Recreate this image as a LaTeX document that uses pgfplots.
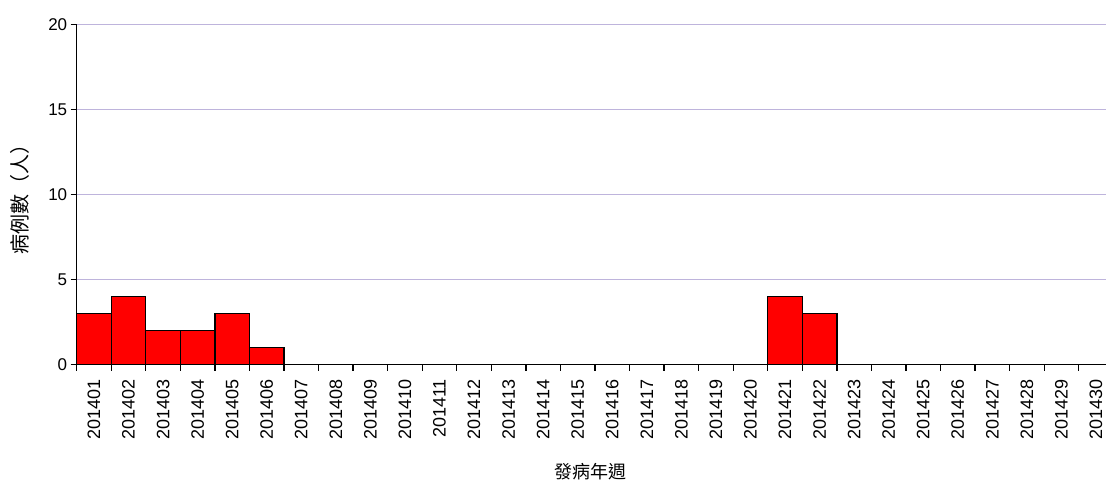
\documentclass[border=0pt]{standalone}
\usepackage{pgfplots}
\pgfplotsset{compat=1.18}
\usepackage{fontspec}
\setmainfont{Liberation Sans}
\newfontfamily\cjk{Noto Sans CJK TC}
\definecolor{gridc}{RGB}{190,180,220}
\begin{document}
\begin{tikzpicture}[x=1pt,y=1pt]
\path[use as bounding box] (0,0) rectangle (1106,480);
\begin{axis}[
  at={(76.7pt,115.3pt)}, anchor=south west,
  scale only axis, width=1029.3pt, height=340pt,
  xmin=-0.5, xmax=29.29, ymin=0, ymax=20,
  axis lines*=left,
  axis line style={-, black, line width=1.5pt},
  ytick={0,5,10,15,20},
  xtick={-0.5,0.5,...,28.5},
  xticklabels={},
  extra x ticks={0,...,29},
  extra x tick labels={201401,201402,201403,201404,201405,201406,201407,201408,201409,201410,201411,201412,201413,201414,201415,201416,201417,201418,201419,201420,201421,201422,201423,201424,201425,201426,201427,201428,201429,201430},
  extra x tick style={major tick length=0pt, xticklabel shift=11pt},
  tick align=outside,
  major tick length=6pt,
  tick style={black, line width=1.3pt},
  ymajorgrids,
  grid style={gridc, line width=1.3pt},
  /pgf/number format/assume math mode=true,
  xticklabel style={rotate=90, anchor=east, font=\fontsize{18}{18}\selectfont},
  yticklabel style={font=\fontsize{17}{17}\selectfont},
  xlabel={\cjk 發病年週},
  ylabel={\cjk 病例數（人）},
  xlabel style={at={(axis description cs:0.4987,-0.3156)}, anchor=center, font=\fontsize{18}{18}\selectfont},
  ylabel style={at={(axis description cs:-0.0551,0.5)}, anchor=center, font=\fontsize{20}{20}\selectfont},
  clip=false,
]
\addplot[ybar, bar width=1, fill=red, draw=black, line width=1.3pt] coordinates {
(0,3) (1,4) (2,2) (3,2) (4,3) (5,1) (6,0) (7,0) (8,0) (9,0)
(10,0) (11,0) (12,0) (13,0) (14,0) (15,0) (16,0) (17,0) (18,0) (19,0)
(20,4) (21,3) (22,0) (23,0) (24,0) (25,0) (26,0) (27,0) (28,0) (29,0)
};
\end{axis}
\end{tikzpicture}
\end{document}
